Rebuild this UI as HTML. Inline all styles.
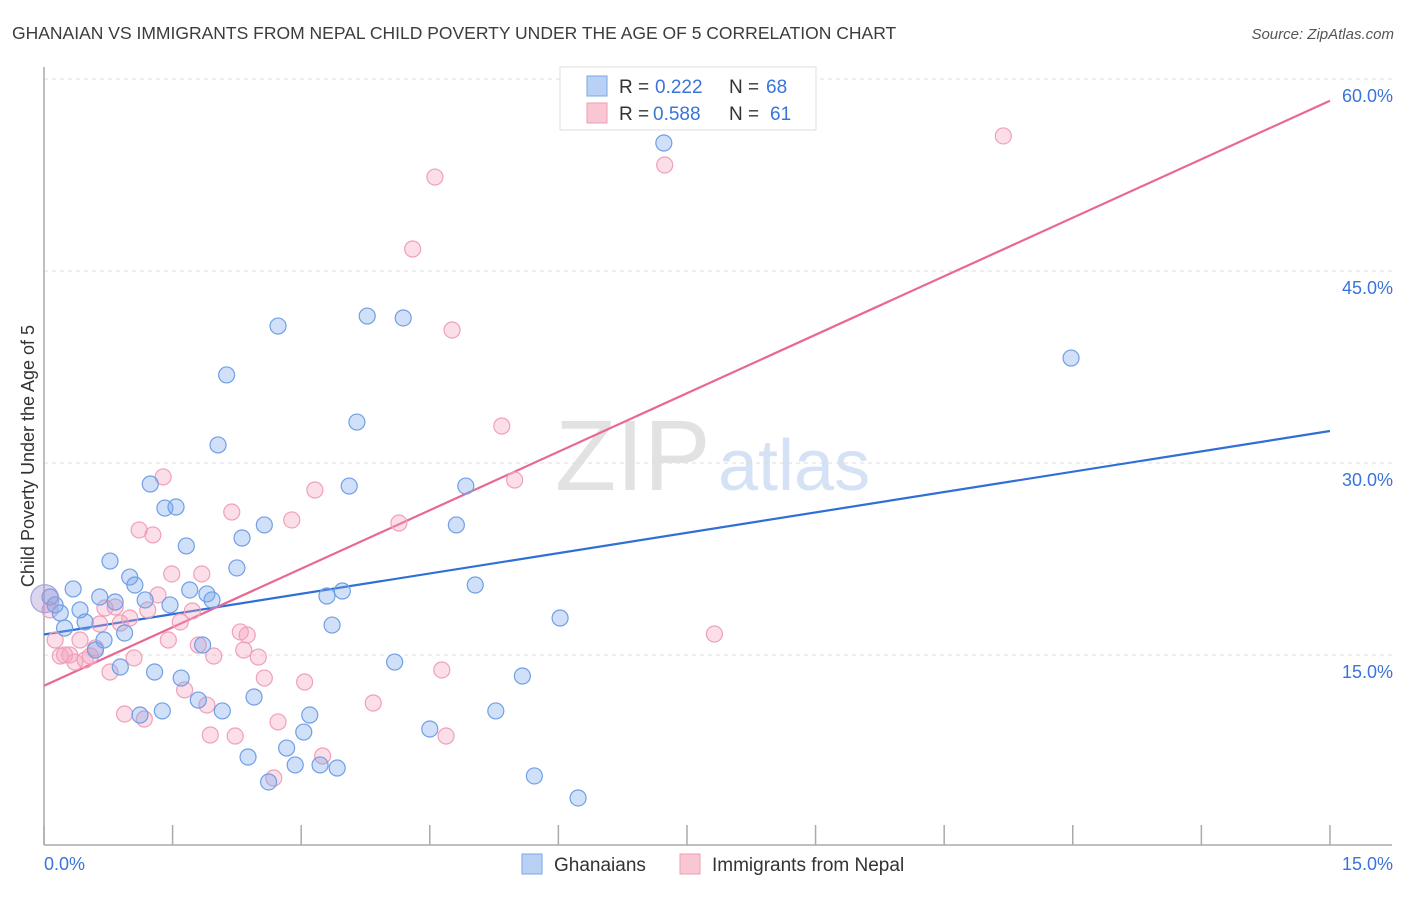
<!DOCTYPE html>
<html><head><meta charset="utf-8"><style>
body{margin:0;background:#fff;font-family:"Liberation Sans",sans-serif}
svg text{font-family:"Liberation Sans",sans-serif}
</style></head><body>
<svg id="chart" width="1406" height="892" xmlns="http://www.w3.org/2000/svg">
<text x="12" y="39" font-size="17.5" fill="#3c3c3c">GHANAIAN VS IMMIGRANTS FROM NEPAL CHILD POVERTY UNDER THE AGE OF 5 CORRELATION CHART</text>
<text x="1394" y="39" font-size="15" fill="#555" text-anchor="end" font-style="italic">Source: ZipAtlas.com</text>
<text x="555" y="490" font-size="100" fill="#e2e2e2" font-family="Liberation Serif">ZIP</text>
<text x="718" y="490" font-size="72" fill="#d5e2f5">atlas</text>
<text transform="translate(34,456) rotate(-90)" font-size="18" fill="#333" text-anchor="middle">Child Poverty Under the Age of 5</text>
<g id="grid"></g><g id="axes"></g><g id="lines"></g><g id="points"></g>
<g>
<rect x="560" y="67" width="256" height="63" fill="#fff" stroke="#ddd"/>
<rect x="587" y="76" width="20" height="20" fill="#b9d1f5" stroke="#7aa5e8"/>
<text x="619" y="93" font-size="19" fill="#333">R =</text><text x="655" y="93" font-size="19" fill="#3a74d8">0.222</text>
<text x="729" y="93" font-size="19" fill="#333">N =</text><text x="766" y="93" font-size="19" fill="#3a74d8">68</text>
<rect x="587" y="103" width="20" height="20" fill="#f9c6d4" stroke="#ee9db6"/>
<text x="619" y="120" font-size="19" fill="#333">R =</text><text x="653" y="120" font-size="19" fill="#3a74d8">0.588</text>
<text x="729" y="120" font-size="19" fill="#333">N =</text><text x="770" y="120" font-size="19" fill="#3a74d8">61</text>
</g>
<g>
<rect x="522" y="854" width="20" height="20" fill="#b9d1f5" stroke="#7aa5e8"/>
<text x="554" y="871" font-size="19" fill="#333">Ghanaians</text>
<rect x="680" y="854" width="20" height="20" fill="#f9c6d4" stroke="#ee9db6"/>
<text x="712" y="871" font-size="19" fill="#333">Immigrants from Nepal</text>
</g>
</svg>
<script>
const yTicks=[15,30,45,60];
const yTickLabels=["15.0%","30.0%","45.0%","60.0%"];
const xTicks=[0,1.5,3,4.5,6,7.5,9,10.5,12,13.5,15];
const xEndLabels=["0.0%","15.0%"];
const blueX=[0.07,0.13,0.19,0.24,0.34,0.42,0.48,0.60,0.65,0.70,0.77,0.83,0.89,0.94,1.00,1.06,1.12,1.18,1.24,1.29,1.38,1.41,1.47,1.54,1.60,1.66,1.70,1.80,1.85,1.90,1.96,2.03,2.08,2.13,2.25,2.31,2.38,2.45,2.57,2.62,2.73,2.83,2.93,3.03,3.10,3.22,3.30,3.36,3.42,3.48,3.56,3.65,3.77,4.09,4.19,4.50,4.81,4.92,5.03,5.27,5.58,5.72,6.02,6.23,7.23,11.98];
const blueY=[19.53,18.91,18.28,17.11,20.16,18.52,17.58,15.39,19.53,16.17,22.34,19.14,14.06,16.72,21.09,20.47,10.31,19.30,28.36,13.67,10.63,26.48,18.91,26.56,13.20,23.52,20.08,11.48,15.78,19.77,19.30,31.41,10.63,36.88,21.80,24.14,7.03,11.72,25.16,5.08,40.70,7.73,6.41,8.98,10.31,6.41,19.61,17.34,6.17,20.00,28.20,33.20,41.48,14.45,41.33,9.22,25.16,28.20,20.47,10.63,13.36,5.55,17.89,3.83,55.00,38.20];
const pinkX=[0.07,0.13,0.19,0.24,0.30,0.36,0.42,0.48,0.54,0.60,0.65,0.71,0.77,0.83,0.89,0.94,1.00,1.05,1.11,1.17,1.21,1.27,1.33,1.39,1.45,1.49,1.59,1.64,1.73,1.80,1.84,1.90,1.94,1.98,2.19,2.23,2.29,2.33,2.37,2.50,2.57,2.68,2.73,2.89,3.04,3.16,3.25,3.84,4.14,4.30,4.56,4.64,4.69,4.76,5.34,5.49,7.24,7.82,11.19];
const pinkY=[18.52,16.17,14.92,15.00,15.00,14.45,16.17,14.61,14.92,15.55,17.42,18.67,13.67,18.75,17.50,10.39,17.89,14.77,24.77,10.00,18.52,24.38,19.69,28.91,16.17,21.33,17.58,12.27,18.44,15.78,21.33,11.09,8.75,14.92,26.17,8.67,16.80,15.39,16.56,14.84,13.20,5.39,9.77,25.55,12.89,27.89,7.11,11.25,25.31,46.72,52.34,13.83,8.67,40.39,32.89,28.67,53.28,16.64,55.55];
const bigPoints=[[0.01,19.4]];
const blueTrend=[[0,16.6],[15,32.5]];
const pinkTrend=[[0,12.6],[15,58.3]];
const NS="http://www.w3.org/2000/svg";
const sx=v=>44+v*85.73, sy=v=>847-v*12.8;
function mk(t,a,p){const e=document.createElementNS(NS,t);for(const k in a)e.setAttribute(k,a[k]);p.appendChild(e);return e;}
const grid=document.getElementById('grid'),axes=document.getElementById('axes'),lines=document.getElementById('lines'),pts=document.getElementById('points');
yTicks.forEach((t,i)=>{
 const l=mk('line',{x1:44,x2:1392,y1:sy(t),y2:sy(t),stroke:'#ddd','stroke-dasharray':'4,4'},grid);
 
 
 const tx=mk('text',{x:1393,y:sy(t)+23,'font-size':18,fill:'#3a74d8','text-anchor':'end'},axes);
 tx.textContent=yTickLabels[i];
 
 
});
const ya=mk('line',{x1:44,x2:44,y1:67,y2:845,stroke:'#aaa','stroke-width':1.5},axes);


const xa=mk('line',{x1:44,x2:1392,y1:845,y2:845,stroke:'#aaa','stroke-width':1.5},axes);


xTicks.forEach(t=>{
 const l=mk('line',{x1:sx(t),x2:sx(t),y1:825,y2:845,stroke:'#aaa','stroke-width':1.5},axes);
 
 
});
const x0=mk('text',{x:44,y:870,'font-size':18,fill:'#3a74d8'},axes);x0.textContent=xEndLabels[0];


const x1=mk('text',{x:1393,y:870,'font-size':18,fill:'#3a74d8','text-anchor':'end'},axes);x1.textContent=xEndLabels[1];


function dots(X,Y,fill,stroke,name){X.forEach((x,i)=>{
 const c=mk('circle',{cx:sx(x),cy:sy(Y[i]),r:8,fill:fill,stroke:stroke,'stroke-width':1.2},pts);
 
 
});}
dots(pinkX,pinkY,'rgba(244,160,188,0.35)','#f0a0b8','nepal-point');
dots(blueX,blueY,'rgba(120,165,235,0.35)','#6f9fe6','ghanaian-point');
bigPoints.forEach(p=>{
 const c=mk('circle',{cx:sx(p[0]),cy:sy(p[1]),r:14,fill:'rgba(170,150,210,0.4)',stroke:'#9aa6e0','stroke-width':1.2},pts);
 
 
});
const bl=mk('line',{x1:sx(blueTrend[0][0]),y1:sy(blueTrend[0][1]),x2:sx(blueTrend[1][0]),y2:sy(blueTrend[1][1]),stroke:'#2f6fd6','stroke-width':2.2},lines);


const pl=mk('line',{x1:sx(pinkTrend[0][0]),y1:sy(pinkTrend[0][1]),x2:sx(pinkTrend[1][0]),y2:sy(pinkTrend[1][1]),stroke:'#e86892','stroke-width':2.2},lines);


</script>
</body></html>
